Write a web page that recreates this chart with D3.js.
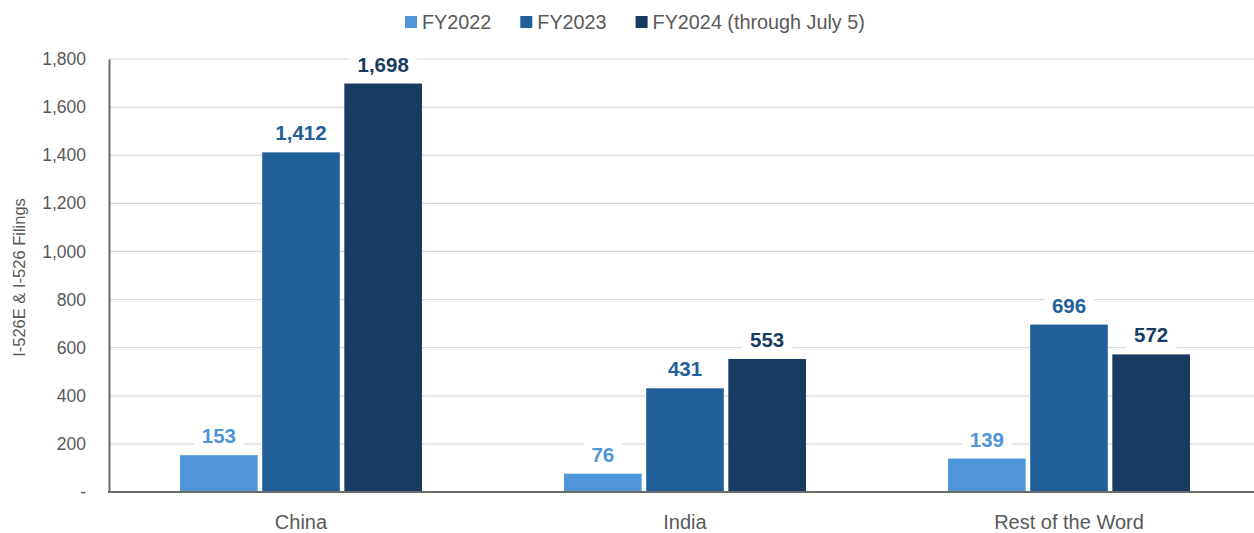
<!DOCTYPE html>
<html>
<head>
<meta charset="utf-8">
<script src="https://cdn.jsdelivr.net/npm/d3@7"></script>
<style>
  html, body { margin: 0; padding: 0; background: #fff; }
  svg { display: block; font-family: "Liberation Sans", Arial, sans-serif; }
</style>
</head>
<body>
<svg id="chart" width="1254" height="533"></svg>
<script>
// Filings by country of birth, per fiscal year
const categories = ["China", "India", "Rest of the Word"];
const seriesNames = ["FY2022", "FY2023", "FY2024 (through July 5)"];
const fy2022 = [153, 76, 139];
const fy2023 = [1412, 431, 696];
const fy2024 = [1698, 553, 572];
const yTicks = [0, 200, 400, 600, 800, 1000, 1200, 1400, 1600, 1800];
const yTitle = "I-526E & I-526 Filings";

const colors = ["#4e95d9", "#215f9a", "#183b62"];
const series = [fy2022, fy2023, fy2024];

const W = 1254, H = 533;
const margin = { left: 109, right: -7, top: 59, bottom: 41 };
const svg = d3.select("#chart");

const x0 = d3.scaleBand()
  .domain(categories)
  .range([margin.left, W - margin.right])
  .paddingInner(0.37)
  .paddingOuter(0.185);

const x1 = d3.scaleBand()
  .domain(seriesNames)
  .range([0, x0.bandwidth()])
  .paddingInner(0.055);

const y = d3.scaleLinear()
  .domain([0, 1800])
  .range([H - margin.bottom, margin.top]);

// horizontal gridlines
svg.append("g")
  .selectAll("line")
  .data(yTicks.filter(d => d > 0))
  .join("line")
  .attr("x1", margin.left)
  .attr("x2", W)
  .attr("y1", d => y(d))
  .attr("y2", d => y(d))
  .attr("stroke", "#d9d9d9")
  .attr("stroke-width", 1.2);

// y axis
const yAxis = d3.axisLeft(y)
  .tickValues(yTicks)
  .tickSize(0)
  .tickPadding(23)
  .tickFormat(d => d === 0 ? "-" : d3.format(",")(d));

const gy = svg.append("g")
  .attr("transform", `translate(${margin.left},0)`)
  .call(yAxis);
gy.select(".domain").attr("stroke", "#6b6b6b").attr("stroke-width", 2);
gy.selectAll("text")
  .attr("fill", "#595959")
  .attr("font-size", 17.5)
  .attr("font-family", "'Liberation Sans', Arial, sans-serif");

// y axis title
svg.append("text")
  .attr("transform", `translate(25,${(y(0) + y(1800)) / 2 + 2}) rotate(-90)`)
  .attr("text-anchor", "middle")
  .attr("fill", "#595959")
  .attr("font-size", 16.5)
  .text(yTitle);

// bars
const groups = svg.append("g")
  .selectAll("g")
  .data(categories)
  .join("g")
  .attr("transform", d => `translate(${x0(d)},0)`);

groups.selectAll("rect")
  .data((c, i) => series.map((s, k) => ({ key: seriesNames[k], value: s[i], k })))
  .join("rect")
  .attr("x", d => x1(d.key))
  .attr("width", x1.bandwidth())
  .attr("y", d => y(d.value))
  .attr("height", d => y(0) - y(d.value))
  .attr("fill", d => colors[d.k]);

// value labels with white backing
const labels = groups.selectAll("g.lbl")
  .data((c, i) => series.map((s, k) => ({ key: seriesNames[k], value: s[i], k })))
  .join("g")
  .attr("class", "lbl")
  .attr("transform", d => `translate(${x1(d.key) + x1.bandwidth() / 2},${y(d.value) - 12})`);

labels.append("rect")
  .attr("fill", "#fff");

labels.append("text")
  .attr("text-anchor", "middle")
  .attr("font-size", 20.5)
  .attr("font-weight", "bold")
  .attr("fill", d => colors[d.k])
  .text(d => d3.format(",")(d.value));

labels.each(function () {
  const g = d3.select(this);
  const b = g.select("text").node().getBBox();
  g.select("rect")
    .attr("x", b.x - 8)
    .attr("y", b.y - 2)
    .attr("width", b.width + 16)
    .attr("height", b.height + 4);
});

// x axis baseline and category labels
svg.append("line")
  .attr("x1", margin.left - 1)
  .attr("x2", W)
  .attr("y1", y(0))
  .attr("y2", y(0))
  .attr("stroke", "#6b6b6b")
  .attr("stroke-width", 2);

svg.append("g")
  .selectAll("text")
  .data(categories)
  .join("text")
  .attr("x", d => x0(d) + x0.bandwidth() / 2)
  .attr("y", 529)
  .attr("text-anchor", "middle")
  .attr("fill", "#595959")
  .attr("font-size", 20)
  .text(d => d);

// legend
const legend = svg.append("g").attr("transform", "translate(405,22)");
let lx = 0;
seriesNames.forEach((name, k) => {
  const item = legend.append("g").attr("transform", `translate(${lx},0)`);
  item.append("rect")
    .attr("x", 0).attr("y", -6)
    .attr("width", 12).attr("height", 12)
    .attr("fill", colors[k]);
  const t = item.append("text")
    .attr("x", 17)
    .attr("y", 7)
    .attr("fill", "#595959")
    .attr("font-size", 19.8)
    .text(name);
  lx += 17 + t.node().getComputedTextLength() + 29;
});
</script>
</body>
</html>
